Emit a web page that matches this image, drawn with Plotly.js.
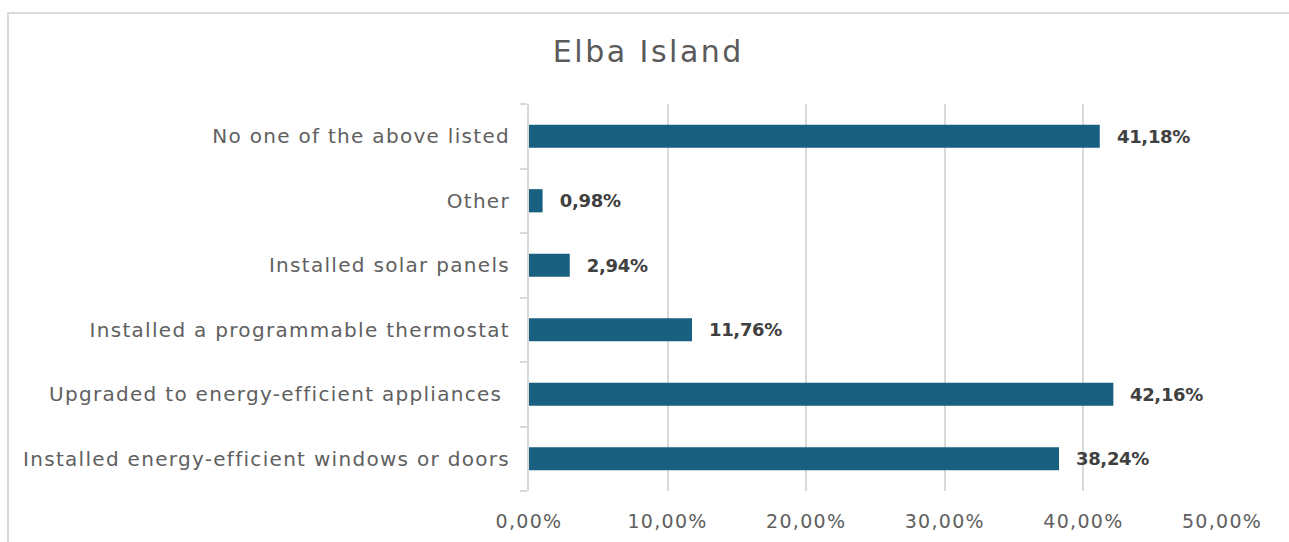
<!DOCTYPE html>
<html>
<head>
<meta charset="utf-8">
<script src="https://cdn.plot.ly/plotly-3.0.1.min.js"></script>
<style>
  html, body { margin: 0; padding: 0; background: #fff; overflow: hidden; }
  #frame { position: absolute; left: 7px; top: 12px; width: 1400px; height: 600px;
           border-top: 2px solid #d9d9d9; border-left: 2px solid #d9d9d9; box-sizing: border-box; }
  #chart { position: absolute; left: 0; top: 0; width: 1289px; height: 542px; }
  #chart .ytick text { letter-spacing: 1.3px; }
  #chart .xtick text { letter-spacing: 1.3px; }
  #chart .gtitle { letter-spacing: 2.5px; }
  #chart .annotation-text { letter-spacing: -0.3px; }
</style>
</head>
<body>
<div id="frame"></div>
<div id="chart"></div>
<script>
const categories = [
  "Installed energy-efficient windows or doors",
  "Upgraded to energy-efficient appliances\u00a0",
  "Installed a programmable thermostat",
  "Installed solar panels",
  "Other",
  "No one of the above listed"
];
const values = [38.24, 42.16, 11.76, 2.94, 0.98, 41.18];
const tickVals = [0, 10, 20, 30, 40, 50];

const fmt = v => v.toFixed(2).replace('.', ',') + '%';
const FONT = 'DejaVu Sans, Verdana, sans-serif';

const trace = {
  type: 'bar',
  orientation: 'h',
  x: values,
  y: categories,
  marker: { color: '#185f80' },
  hoverinfo: 'none'
};

const annotations = values.map((v, i) => ({
  x: v, y: categories[i], xref: 'x', yref: 'y',
  text: '<b>' + fmt(v) + '</b>',
  showarrow: false, xanchor: 'left', yanchor: 'middle', xshift: 14,
  font: { family: FONT, size: 18, color: '#404040' }
}));

const layout = {
  width: 1289, height: 542,
  paper_bgcolor: 'rgba(0,0,0,0)', plot_bgcolor: 'rgba(0,0,0,0)',
  margin: { l: 529, r: 67, t: 104, b: 51, pad: 0 },
  title: { text: 'Elba Island', x: 0.503, xanchor: 'center', y: 0.905, yanchor: 'middle',
           font: { family: FONT, size: 30, color: '#5a5a5a' } },
  bargap: 0.64,
  showlegend: false,
  xaxis: {
    range: [0, 50], tickvals: tickVals, ticktext: tickVals.map(fmt),
    showgrid: true, gridcolor: '#d9d9d9', gridwidth: 2, zeroline: false,
    showline: false, ticks: '', ticklabelstandoff: 17,
    tickfont: { family: FONT, size: 19, color: '#606060' }, fixedrange: true
  },
  yaxis: {
    type: 'category', categoryorder: 'array', categoryarray: categories,
    showline: true, linecolor: '#d9d9d9', linewidth: 2,
    ticks: 'outside', tickson: 'boundaries', ticklen: 7, tickcolor: '#d9d9d9', tickwidth: 2,
    ticklabelstandoff: 13, showgrid: false,
    tickfont: { family: FONT, size: 20, color: '#606060' }, fixedrange: true
  },
  annotations: annotations
};

Plotly.newPlot('chart', [trace], layout, { displayModeBar: false, staticPlot: true });
</script>
</body>
</html>
